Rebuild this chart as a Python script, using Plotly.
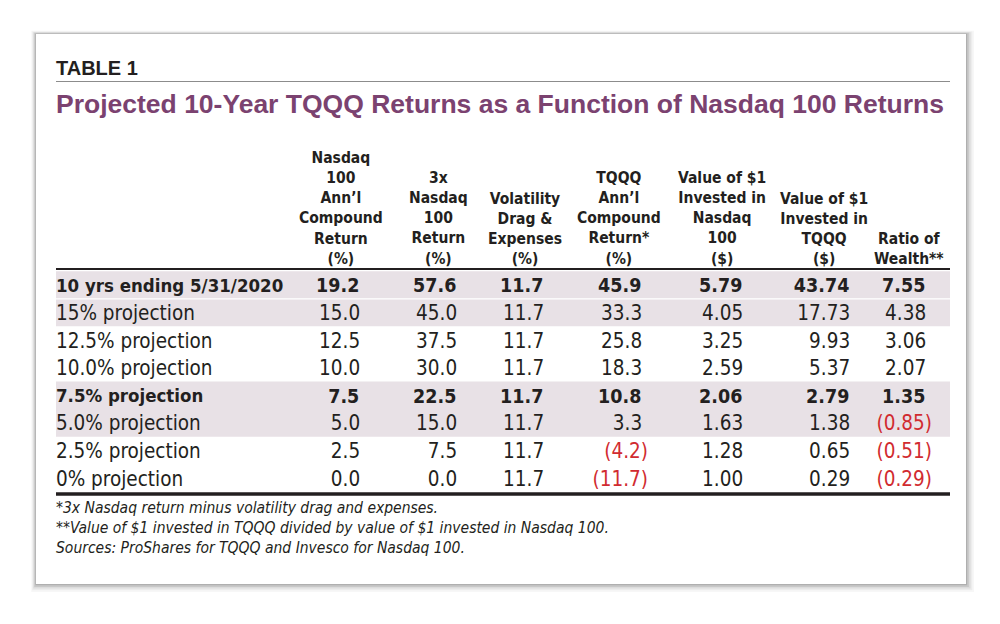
import plotly.graph_objects as go

# table content
row_labels = ["10 yrs ending 5/31/2020", "15% projection", "12.5% projection",
              "10.0% projection", "7.5% projection", "5.0% projection",
              "2.5% projection", "0% projection"]
nasdaq_ann = [19.2, 15.0, 12.5, 10.0, 7.5, 5.0, 2.5, 0.0]
nasdaq_3x = [57.6, 45.0, 37.5, 30.0, 22.5, 15.0, 7.5, 0.0]
vol_drag = [11.7, 11.7, 11.7, 11.7, 11.7, 11.7, 11.7, 11.7]
tqqq_ann = [45.9, 33.3, 25.8, 18.3, 10.8, 3.3, -4.2, -11.7]
value_nasdaq = [5.79, 4.05, 3.25, 2.59, 2.06, 1.63, 1.28, 1.00]
value_tqqq = [43.74, 17.73, 9.93, 5.37, 2.79, 1.38, 0.65, 0.29]
wealth_ratio = [7.55, 4.38, 3.06, 2.07, 1.35, -0.85, -0.51, -0.29]

col_headers = ["Nasdaq<br>100<br>Ann’l<br>Compound<br>Return<br>(%)",
               "3x<br>Nasdaq<br>100<br>Return<br>(%)",
               "Volatility<br>Drag &amp;<br>Expenses<br>(%)",
               "TQQQ<br>Ann’l<br>Compound<br>Return*<br>(%)",
               "Value of $1<br>Invested in<br>Nasdaq<br>100<br>($)",
               "Value of $1<br>Invested in<br>TQQQ<br>($)",
               "Ratio of<br>Wealth**"]
decimals = [1, 1, 1, 1, 2, 2, 2]
bold_rows = [0, 4]
shaded_rows = [0, 1, 4, 5]

table_label = "TABLE 1"
title = "Projected 10-Year TQQQ Returns as a Function of Nasdaq 100 Returns"
footnotes = ["*3x Nasdaq return minus volatility drag and expenses.",
             "**Value of $1 invested in TQQQ divided by value of $1 invested in Nasdaq 100.",
             "Sources: ProShares for TQQQ and Invesco for Nasdaq 100."]

columns = [nasdaq_ann, nasdaq_3x, vol_drag, tqqq_ann, value_nasdaq, value_tqqq, wealth_ratio]

# layout (coordinates match screen pixels; the page body has an 8px margin)
W, H = 1000, 624
PAGE_OFF = 8
card = (36, 34, 966, 584)
left, right = 56, 950
col_right = [366, 463, 550, 648, 749, 856, 932]
col_center = [341, 438, 525, 619, 722, 824, 909]
row_top = 285
row_h = 27.57
text_dy = 2.5
header_line_y = 269
bottom_line_y = 494

INK = "#231f20"
RED = "#d12b30"
PURPLE = "#7b4270"
SHADE = "#e8e1e6"
COND = "DejaVu Sans Condensed, Liberation Sans Narrow, Arial Narrow, sans-serif"
NARROW = "Liberation Sans Narrow, DejaVu Sans Condensed, Arial Narrow, sans-serif"
SANS = "Liberation Sans, Arial, Helvetica, sans-serif"

row_y = [row_top + i * row_h for i in range(len(row_labels))]
text_y = [y + text_dy for y in row_y]


def fmt(v, d, bold):
    s = f"{abs(v):.{d}f}"
    s = f"({s})" if v < 0 else s + "\u2008"
    return f"<b>{s}</b>" if bold else s


fig = go.Figure()

# row labels
fig.add_trace(go.Scatter(
    x=[left] * len(row_labels), y=text_y, mode="text",
    text=[f"<b>{t}</b>" if i in bold_rows else t for i, t in enumerate(row_labels)],
    textposition="middle right",
    textfont=dict(family=COND, size=[18.5 if i in bold_rows else 20.5 for i in range(len(row_labels))],
                  color=INK),
    hoverinfo="skip", showlegend=False))

# value columns
for j, vals in enumerate(columns):
    fig.add_trace(go.Scatter(
        x=[col_right[j]] * len(vals), y=text_y, mode="text",
        text=[fmt(v, decimals[j], i in bold_rows) for i, v in enumerate(vals)],
        textposition="middle left",
        textfont=dict(family=COND,
                      size=[19.5 if i in bold_rows else 20.5 for i in range(len(vals))],
                      color=[RED if v < 0 else INK for v in vals]),
        hoverinfo="skip", showlegend=False))

shapes = []
# card shadow, darker towards the lower right
for k, a in enumerate([0.03, 0.045, 0.065, 0.09, 0.12]):
    g = 8 - k * 1.7
    shapes.append(dict(type="rect", x0=card[0] - g * 0.6, y0=card[1] - g * 0.4,
                       x1=card[2] + g, y1=card[3] + g,
                       fillcolor=f"rgba(0,0,0,{a})", line_width=0, layer="below"))
shapes.append(dict(type="rect", x0=card[0], y0=card[1], x1=card[2], y1=card[3],
                   fillcolor="white", line_width=0, layer="below"))
# shaded rows
for i in shaded_rows:
    shapes.append(dict(type="rect", x0=left, x1=right,
                       y0=row_y[i] - row_h / 2, y1=row_y[i] + row_h / 2,
                       fillcolor=SHADE, line_width=0, layer="below"))
# separator under the first row
shapes.append(dict(type="line", x0=left, x1=right, y0=row_y[0] + row_h / 2,
                   y1=row_y[0] + row_h / 2, line=dict(color="white", width=1.2), layer="below"))
# rules
shapes.append(dict(type="line", x0=left, x1=right, y0=81.5, y1=81.5,
                   line=dict(color="#8c8c8c", width=1.2)))
shapes.append(dict(type="line", x0=left, x1=right, y0=header_line_y, y1=header_line_y,
                   line=dict(color=INK, width=2.2)))
shapes.append(dict(type="line", x0=left, x1=right, y0=bottom_line_y, y1=bottom_line_y,
                   line=dict(color=INK, width=3.6)))

annotations = [
    dict(x=left - 2, y=68, text=f"<b>{table_label}</b>", xanchor="left", yanchor="middle",
         font=dict(family=SANS, size=20, color=INK)),
    dict(x=left - 2, y=104, text=f"<b>{title}</b>", xanchor="left", yanchor="middle",
         font=dict(family=SANS, size=26.5, color=PURPLE)),
]
for j, h in enumerate(col_headers):
    annotations.append(dict(x=col_center[j], y=header_line_y + 1, text=f"<b>{h}</b>",
                            xanchor="center", yanchor="bottom", align="center",
                            font=dict(family=COND, size=15.5, color=INK)))
for k, t in enumerate(footnotes):
    annotations.append(dict(x=left - 2, y=508 + 20 * k, text=t, xanchor="left", yanchor="middle",
                            font=dict(family=NARROW, size=15.5, color=INK, style="italic")))
for a in annotations:
    a.update(xref="x", yref="y", showarrow=False)

fig.update_layout(
    width=W, height=H, autosize=False,
    margin=dict(l=0, r=0, t=0, b=0),
    paper_bgcolor="white", plot_bgcolor="white",
    xaxis=dict(range=[PAGE_OFF, W + PAGE_OFF], visible=False, fixedrange=True),
    yaxis=dict(range=[H + PAGE_OFF, PAGE_OFF], visible=False, fixedrange=True),
    shapes=shapes, annotations=annotations,
)

fig.write_html("out.html")
